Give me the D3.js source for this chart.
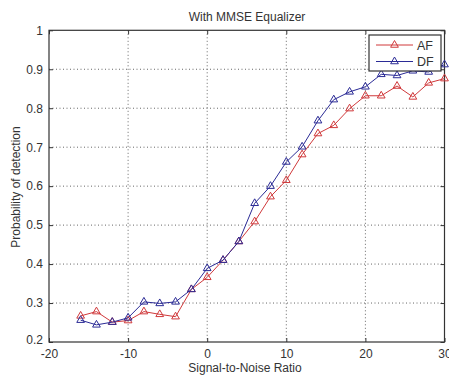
<!DOCTYPE html>
<html>
<head>
<meta charset="utf-8">
<script src="https://cdn.jsdelivr.net/npm/d3@7"></script>
<style>
  html, body { margin: 0; padding: 0; background: #fff; }
  svg { display: block; font-family: "Liberation Sans", Arial, sans-serif; }
</style>
</head>
<body>
<svg id="chart" width="449" height="379"></svg>
<script>
const snr = [-16,-14,-12,-10,-8,-6,-4,-2,0,2,4,6,8,10,12,14,16,18,20,22,24,26,28,30];
const afValues = [0.267,0.278,0.251,0.255,0.278,0.271,0.265,0.335,0.366,0.410,0.458,0.509,0.573,0.615,0.681,0.735,0.756,0.799,0.832,0.832,0.857,0.829,0.865,0.876];
const dfValues = [0.256,0.244,0.251,0.262,0.303,0.299,0.303,0.335,0.389,0.410,0.458,0.556,0.600,0.662,0.701,0.768,0.822,0.842,0.855,0.887,0.884,0.896,0.893,0.912];
const xTicks = [-20,-10,0,10,20,30];
const yTicks = [0.2,0.3,0.4,0.5,0.6,0.7,0.8,0.9,1];
const seriesNames = ["AF","DF"];
const seriesColors = ["#d0393b","#2b2b96"];
const titleText = "With MMSE Equalizer";
const xLabel = "Signal-to-Noise Ratio";
const yLabel = "Probability of detection";

const svg = d3.select("#chart");
const m = {left: 49, right: 444.5, top: 30.3, bottom: 342};
const x = d3.scaleLinear().domain([-20,30]).range([m.left, m.right]);
const y = d3.scaleLinear().domain([0.2,1]).range([m.bottom, m.top]);
const textColor = "#333";

// grid
const grid = svg.append("g");
xTicks.slice(1, -1).forEach(t => {
  grid.append("line").attr("x1", x(t)).attr("x2", x(t)).attr("y1", m.top).attr("y2", m.bottom)
    .attr("stroke", "#666").attr("stroke-width", 1).attr("stroke-dasharray", "1,2.5");
});
yTicks.slice(1, -1).forEach(t => {
  grid.append("line").attr("x1", m.left).attr("x2", m.right).attr("y1", y(t)).attr("y2", y(t))
    .attr("stroke", "#666").attr("stroke-width", 1).attr("stroke-dasharray", "1,2.5");
});

// axes (ticks inward)
const xAxis = d3.axisBottom(x).tickValues(xTicks).tickSize(-4).tickPadding(7).tickFormat(d => String(d));
const yAxis = d3.axisLeft(y).tickValues(yTicks).tickSize(-4).tickPadding(6).tickFormat(d => d === 1 ? "1" : d.toFixed(1));
const gx = svg.append("g").attr("transform", `translate(0,${m.bottom})`).call(xAxis);
const gy = svg.append("g").attr("transform", `translate(${m.left},0)`).call(yAxis);
[gx, gy].forEach(g => {
  g.select(".domain").remove();
  g.selectAll(".tick line").attr("stroke", "#333");
  g.selectAll(".tick text").attr("fill", textColor).attr("font-size", 12).attr("font-family", "Liberation Sans, Arial, sans-serif");
});
gy.selectAll(".tick text").filter(d => d === 0.2).attr("dy", "0.1em");
// top/right ticks
const gxt = svg.append("g").attr("transform", `translate(0,${m.top})`).call(d3.axisTop(x).tickValues(xTicks).tickSize(-4).tickFormat(""));
const gyr = svg.append("g").attr("transform", `translate(${m.right},0)`).call(d3.axisRight(y).tickValues(yTicks).tickSize(-4).tickFormat(""));
[gxt, gyr].forEach(g => { g.select(".domain").remove(); g.selectAll(".tick line").attr("stroke", "#333"); });

// box
svg.append("rect").attr("x", m.left).attr("y", m.top).attr("width", m.right - m.left).attr("height", m.bottom - m.top)
  .attr("fill", "none").attr("stroke", "#333").attr("stroke-width", 1.2);

// series
const tri = d3.symbol().type(d3.symbolTriangle).size(26);
const allSeries = [afValues, dfValues];
const line = d3.line().x((d, i) => x(snr[i])).y(d => y(d));
allSeries.forEach((vals, k) => {
  const g = svg.append("g");
  g.append("path").datum(vals).attr("d", line).attr("fill", "none").attr("stroke", seriesColors[k]).attr("stroke-width", 1);
  g.selectAll("path.m").data(vals).enter().append("path").attr("class", "m")
    .attr("d", tri).attr("transform", (d, i) => `translate(${x(snr[i])},${y(d)})`)
    .attr("fill", "none").attr("stroke", seriesColors[k]).attr("stroke-width", 1);
});

// legend
const lg = svg.append("g");
lg.append("rect").attr("x", 369).attr("y", 35).attr("width", 72).attr("height", 36)
  .attr("fill", "#fff").attr("stroke", "#333").attr("stroke-width", 1.2);
seriesNames.forEach((name, k) => {
  const ly = 45 + k * 16.5;
  lg.append("line").attr("x1", 376).attr("x2", 413).attr("y1", ly).attr("y2", ly).attr("stroke", seriesColors[k]).attr("stroke-width", 1);
  lg.append("path").attr("d", tri).attr("transform", `translate(394.5,${ly})`).attr("fill", "none").attr("stroke", seriesColors[k]);
  lg.append("text").attr("x", 417).attr("y", ly).attr("dy", "0.36em").attr("font-size", 12.5).attr("fill", textColor).text(name);
});

// titles
svg.append("text").attr("x", 247).attr("y", 20.5).attr("text-anchor", "middle").attr("font-size", 12).attr("fill", textColor).text(titleText);
svg.append("text").attr("x", 245).attr("y", 372).attr("text-anchor", "middle").attr("font-size", 12).attr("fill", textColor).text(xLabel);
svg.append("text").attr("transform", "translate(19.5,187) rotate(-90)").attr("text-anchor", "middle").attr("font-size", 12).attr("fill", textColor).text(yLabel);
</script>
</body>
</html>
